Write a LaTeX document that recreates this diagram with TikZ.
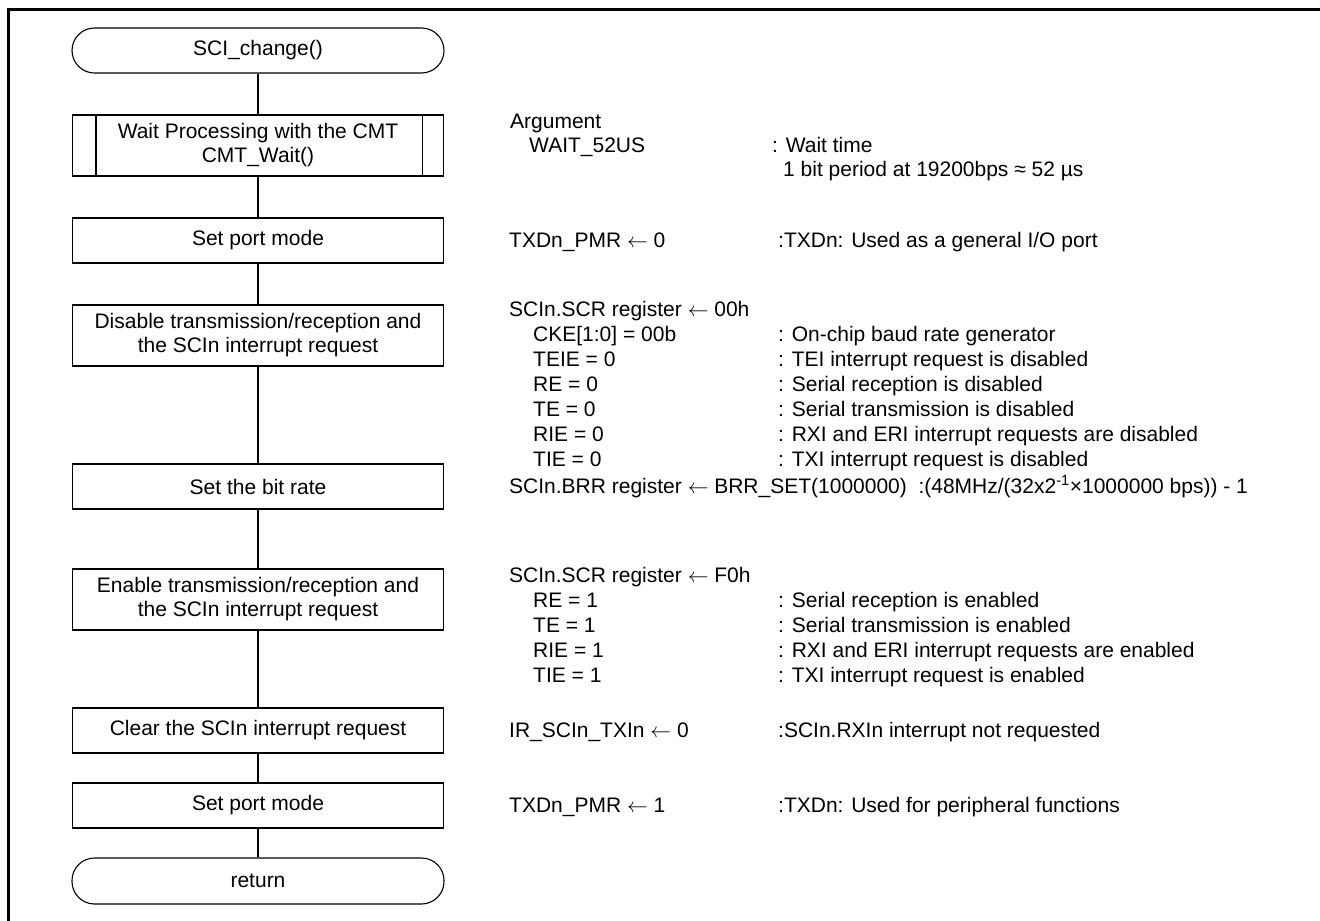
\documentclass[tikz,border=0pt]{standalone}
\usepackage{fontspec}
\setmainfont{Liberation Sans}
\newcommand{\larr}{$\leftarrow$}
\begin{document}
\begin{tikzpicture}[x=1pt,y=-1pt,
  every node/.style={font=\fontsize{21}{24}\selectfont},
  proc/.style={draw, line width=1.1pt, minimum width=371pt, inner sep=0pt, align=center},
  term/.style={draw, line width=1.1pt, minimum width=372pt, minimum height=45pt, inner sep=0pt, rounded corners=22.5pt},
  note/.style={anchor=base west, inner sep=0pt},
  flow/.style={line width=1.1pt},
  frame/.style={line width=3pt}]

\useasboundingbox (0,0) rectangle (1320,921);
\draw[frame] (8.5,921) -- (8.5,9.5) -- (1320,9.5);

% flowchart column
\node[term] (start) at (258,50.5) {SCI\_change()};
\node[proc, minimum height=61pt] (wait) at (258,145.5) {Wait Processing with the CMT\\CMT\_Wait()};
\draw[flow] ([xshift=24pt]wait.north west) -- ([xshift=24pt]wait.south west);
\draw[flow] ([xshift=-22pt]wait.north east) -- ([xshift=-22pt]wait.south east);
\node[proc, minimum height=45pt] (port1) at (258,240.5) {Set port mode};
\node[proc, minimum height=61pt] (dis) at (258,335.5) {Disable transmission/reception and\\the SCIn interrupt request};
\node[proc, minimum height=45pt] (brr) at (258,486.5) {Set the bit rate};
\node[proc, minimum height=61pt] (ena) at (258,599.5) {Enable transmission/reception and\\the SCIn interrupt request};
\node[proc, minimum height=45pt] (clr) at (258,730.5) {Clear the SCIn interrupt request};
\node[proc, minimum height=45pt] (port2) at (258,805.5) {Set port mode};
\node[term, minimum height=46pt] (ret) at (258,881) {return};

\draw[flow] (start) -- (wait);
\draw[flow] (wait) -- (port1);
\draw[flow] (port1) -- (dis);
\draw[flow] (dis) -- (brr);
\draw[flow] (brr) -- (ena);
\draw[flow] (ena) -- (clr);
\draw[flow] (clr) -- (port2);
\draw[flow] (port2) -- (ret);

% annotations
\node[note] (argh) at (510,128) {Argument};
\node[note] (arg1) at (529,152) {WAIT\_52US};
\node[note] (arg1d) at (772,152) {: Wait time};
\node[note] (arg1e) at (783,176) {1 bit period at 19200bps ≈ 52 µs};

\node[note] (p1) at (509,247) {TXDn\_PMR \larr\ 0};
\node[note] (p1d) at (778,247) {:TXDn: Used as a general I/O port};

\node[note] (scr0) at (509,316) {SCIn.SCR register \larr\ 00h};
\node[note] (scr0a) at (533,341) {CKE[1:0] = 00b};
\node[note] (scr0ad) at (778,341) {: On-chip baud rate generator};
\node[note] (scr0b) at (533,366) {TEIE = 0};
\node[note] (scr0bd) at (778,366) {: TEI interrupt request is disabled};
\node[note] (scr0c) at (533,391) {RE = 0};
\node[note] (scr0cd) at (778,391) {: Serial reception is disabled};
\node[note] (scr0e) at (533,416) {TE = 0};
\node[note] (scr0ed) at (778,416) {: Serial transmission is disabled};
\node[note] (scr0f) at (533,441) {RIE = 0};
\node[note] (scr0fd) at (778,441) {: RXI and ERI interrupt requests are disabled};
\node[note] (scr0g) at (533,466) {TIE = 0};
\node[note] (scr0gd) at (778,466) {: TXI interrupt request is disabled};

\node[note] (brrn) at (509,493) {SCIn.BRR register \larr\ BRR\_SET(1000000)\ \ :(48MHz/(32x2\textsuperscript{-1}×1000000 bps)) - 1};

\node[note] (scr1) at (509,582) {SCIn.SCR register \larr\ F0h};
\node[note] (scr1a) at (533,607) {RE = 1};
\node[note] (scr1ad) at (778,607) {: Serial reception is enabled};
\node[note] (scr1b) at (533,632) {TE = 1};
\node[note] (scr1bd) at (778,632) {: Serial transmission is enabled};
\node[note] (scr1c) at (533,657) {RIE = 1};
\node[note] (scr1cd) at (778,657) {: RXI and ERI interrupt requests are enabled};
\node[note] (scr1e) at (533,682) {TIE = 1};
\node[note] (scr1ed) at (778,682) {: TXI interrupt request is enabled};

\node[note] (ir) at (509,737) {IR\_SCIn\_TXIn \larr\ 0};
\node[note] (ird) at (778,737) {:SCIn.RXIn interrupt not requested};

\node[note] (p2) at (509,812) {TXDn\_PMR \larr\ 1};
\node[note] (p2d) at (778,812) {:TXDn: Used for peripheral functions};
\end{tikzpicture}
\end{document}
